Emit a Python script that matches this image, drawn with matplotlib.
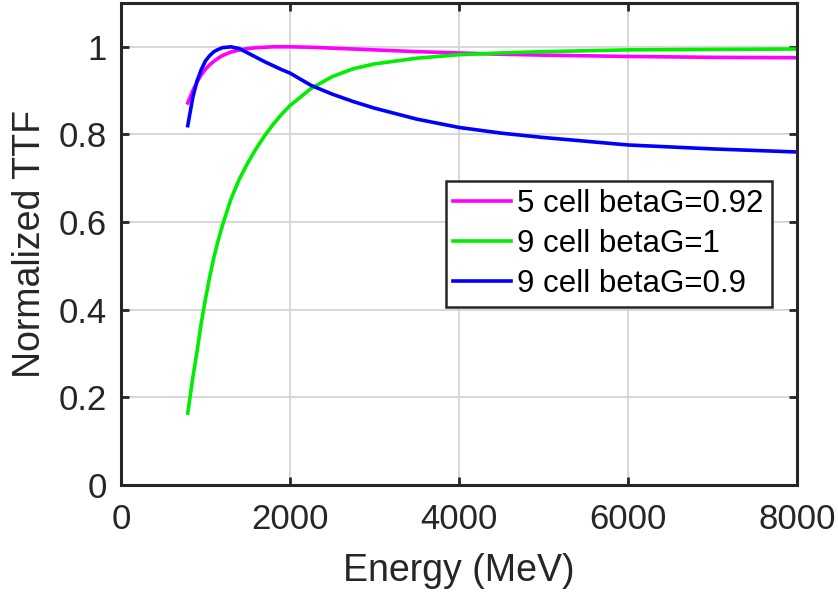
import matplotlib
matplotlib.use("Agg")
import matplotlib.pyplot as plt

# energy grid (MeV) and normalized TTF
energy = [790, 850, 900, 950, 1000, 1050, 1100, 1150, 1200, 1300, 1400, 1500,
          1600, 1700, 1800, 1900, 2000, 2250, 2500, 2750, 3000, 3500, 4000,
          4500, 5000, 6000, 7000, 8000]

ttf_5cell_092 = [0.872, 0.900, 0.920, 0.936, 0.949, 0.959, 0.967, 0.974, 0.980,
                 0.988, 0.993, 0.996, 0.998, 0.999, 1.000, 1.000, 1.000, 0.999,
                 0.997, 0.995, 0.993, 0.989, 0.986, 0.983, 0.981, 0.978, 0.976,
                 0.975]

ttf_9cell_1 = [0.164, 0.245, 0.305, 0.370, 0.425, 0.475, 0.520, 0.558, 0.592,
               0.652, 0.698, 0.735, 0.768, 0.797, 0.823, 0.846, 0.866, 0.905,
               0.932, 0.950, 0.961, 0.974, 0.982, 0.986, 0.989, 0.993, 0.994,
               0.995]

ttf_9cell_09 = [0.820, 0.885, 0.922, 0.948, 0.968, 0.980, 0.989, 0.994, 0.998,
                1.000, 0.996, 0.986, 0.976, 0.966, 0.957, 0.948, 0.940, 0.912,
                0.892, 0.875, 0.860, 0.835, 0.816, 0.803, 0.793, 0.776, 0.767,
                0.760]

labels = ["5 cell betaG=0.92", "9 cell betaG=1", "9 cell betaG=0.9"]
colors = ["#ff00ff", "#00ee00", "#0000ff"]

xticks = [0, 2000, 4000, 6000, 8000]
yticks = [0, 0.2, 0.4, 0.6, 0.8, 1]
ytick_labels = ["0", "0.2", "0.4", "0.6", "0.8", "1"]

plt.rcParams["font.family"] = ["Liberation Sans", "DejaVu Sans"]

fig = plt.figure(figsize=(8.38, 5.98), dpi=100)
ax = fig.add_axes([121 / 838, 113 / 598, 676 / 838, 482 / 598])

for y, lab, c in zip([ttf_5cell_092, ttf_9cell_1, ttf_9cell_09], labels, colors):
    ax.plot(energy, y, color=c, lw=2.6, label=lab, solid_joinstyle="round")

ax.set_xlim(0, 8000)
ax.set_ylim(0, 1.1)
ax.set_xticks(xticks)
ax.set_yticks(yticks)
ax.set_yticklabels(ytick_labels)
ax.grid(True, color="#d4d4d4", lw=1.3)
ax.set_axisbelow(True)

for s in ax.spines.values():
    s.set_linewidth(2.2)
    s.set_color("#262626")
ax.tick_params(direction="in", length=5.5, width=2, top=True, right=True,
               labelsize=25, colors="#262626")
ax.tick_params(axis="x", pad=13)
ax.tick_params(axis="y", pad=10)

ax.set_xlabel("Energy (MeV)", fontsize=27, color="#262626", labelpad=12)
ax.set_ylabel("Normalized TTF", fontsize=27, color="#262626", labelpad=8)

leg = ax.legend(loc="upper right", bbox_to_anchor=(0.9626, 0.631),
                borderaxespad=0, fontsize=22.5, handlelength=1.85,
                handletextpad=0.2, labelspacing=0.33, borderpad=0.25,
                fancybox=False, framealpha=1, edgecolor="#262626")
leg.get_frame().set_linewidth(1.8)

fig.savefig("out.png", dpi=100)
